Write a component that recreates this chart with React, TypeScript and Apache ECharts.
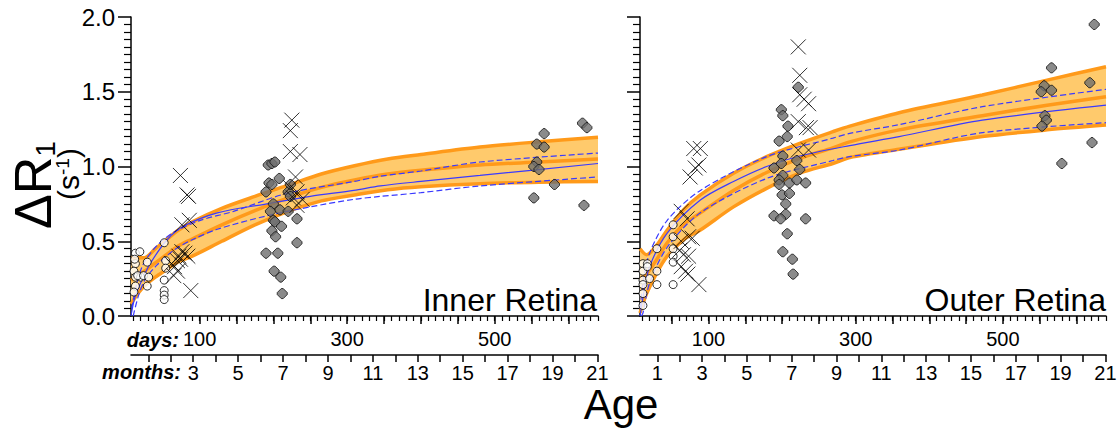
import { useEffect, useRef } from 'react';
import * as echarts from 'echarts';

const FONT = 'Liberation Sans, Arial, Helvetica, sans-serif';
const DAYS_PER_MONTH = 30.44;
const X_MIN = 7;
const X_MAX = 640;

// tick / label values
const dayLabels = [100, 300, 500];
const monthTicks = [1, 2, 3, 4, 5, 6, 7, 8, 9, 10, 11, 12, 13, 14, 15, 16, 17, 18, 19, 20, 21];
const monthLabelsLeft = [3, 5, 7, 9, 11, 13, 15, 17, 19, 21];
const monthLabelsRight = [1, 3, 5, 7, 9, 11, 13, 15, 17, 19, 21];

// ---------- Inner retina (left) ----------
const bandDaysL = [7, 15, 25, 40, 55, 70, 90, 130, 175, 220, 265, 310, 355, 400, 480, 560, 640];
const bandTopL = [0.39, 0.39, 0.39, 0.45, 0.51, 0.57, 0.63, 0.72, 0.8, 0.875, 0.95, 1.005, 1.05, 1.08, 1.13, 1.165, 1.195];
const bandMidL = [0.24, 0.27, 0.3, 0.355, 0.41, 0.465, 0.515, 0.61, 0.705, 0.79, 0.86, 0.91, 0.95, 0.975, 1.01, 1.03, 1.05];
const bandBotL = [0.08, 0.14, 0.2, 0.26, 0.31, 0.36, 0.4, 0.5, 0.61, 0.7, 0.77, 0.81, 0.845, 0.865, 0.885, 0.895, 0.9];

const fitL = [[7, 0.0], [12, 0.12], [20, 0.22], [33, 0.35], [56, 0.51], [78, 0.6], [124, 0.69], [191, 0.75], [250, 0.8], [309, 0.84], [345, 0.87], [400, 0.9], [480, 0.94], [640, 1.02]];
const fitHiL = [[8, 0.05], [15, 0.22], [24, 0.35], [42, 0.47], [65, 0.56], [101, 0.64], [146, 0.7], [218, 0.82], [309, 0.9], [345, 0.935], [400, 0.97], [480, 1.03], [640, 1.09]];
const fitLoL = [[10, 0.0], [18, 0.15], [27, 0.25], [42, 0.34], [65, 0.44], [90, 0.51], [124, 0.58], [191, 0.67], [250, 0.73], [309, 0.78], [345, 0.8], [400, 0.825], [480, 0.87], [640, 0.93]];

const openL = [[13, 0.42], [19, 0.43], [13, 0.35], [12, 0.38], [11, 0.3], [13, 0.26], [20, 0.26], [16, 0.27], [24, 0.27], [13, 0.2], [11, 0.16], [29, 0.36], [31, 0.26], [29, 0.2], [52, 0.49], [54, 0.37], [54, 0.32], [52, 0.24], [52, 0.17], [52, 0.14], [52, 0.11]];
const crossL = [[74, 0.94], [83, 0.81], [85, 0.8], [76, 0.61], [86, 0.64], [66, 0.33], [70, 0.37], [72, 0.4], [76, 0.43], [80, 0.42], [84, 0.4], [65, 0.27], [70, 0.3], [88, 0.17], [74, 0.38], [62, 0.35],
  [225, 1.31], [223, 1.24], [223, 1.1], [236, 1.08], [230, 0.93], [223, 0.86], [232, 0.83], [239, 0.78], [227, 0.79], [232, 0.74]];
const greyL = [[193, 1.01], [198, 1.02], [202, 1.03], [208, 0.92], [194, 0.89], [198, 0.88], [190, 0.83], [200, 0.75], [196, 0.7], [209, 0.71], [200, 0.64], [202, 0.63], [211, 0.6], [198, 0.57], [203, 0.53], [190, 0.42], [206, 0.42], [201, 0.3], [210, 0.26], [212, 0.15], [220, 0.83], [223, 0.8], [223, 0.88], [232, 0.65], [232, 0.49], [220, 0.7],
  [619, 1.29], [625, 1.26], [567, 1.22], [557, 1.15], [567, 1.13], [557, 1.03], [553, 1.0], [560, 0.98], [581, 0.88], [553, 0.79], [621, 0.74]];

// ---------- Outer retina (right) ----------
const bandDaysR = [7, 16, 30, 44, 66, 89, 134, 179, 224, 269, 292, 359, 472, 560, 640];
const bandTopR = [0.45, 0.41, 0.475, 0.575, 0.71, 0.81, 0.955, 1.066, 1.155, 1.233, 1.27, 1.36, 1.478, 1.578, 1.667];
const bandMidR = [0.24, 0.28, 0.38, 0.49, 0.61, 0.69, 0.84, 0.96, 1.055, 1.125, 1.165, 1.245, 1.34, 1.41, 1.467];
const bandBotR = [0.02, 0.15, 0.29, 0.4, 0.51, 0.575, 0.73, 0.854, 0.955, 1.02, 1.06, 1.115, 1.2, 1.245, 1.277];

const fitR = [[7, 0.0], [12, 0.15], [20, 0.33], [44, 0.555], [89, 0.776], [134, 0.9], [179, 1.0], [224, 1.07], [292, 1.14], [359, 1.2], [472, 1.31], [640, 1.41]];
const fitHiR = [[7, 0.05], [12, 0.25], [20, 0.42], [44, 0.64], [89, 0.84], [179, 1.066], [269, 1.19], [292, 1.222], [359, 1.28], [472, 1.4], [640, 1.516]];
const fitLoR = [[9, 0.0], [11, 0.02], [20, 0.22], [44, 0.46], [89, 0.69], [179, 0.92], [269, 1.04], [292, 1.066], [359, 1.11], [472, 1.226], [640, 1.293]];

const openR = [[11, 0.35], [17, 0.35], [11, 0.3], [17, 0.33], [11, 0.24], [11, 0.21], [11, 0.15], [11, 0.07], [20, 0.25], [30, 0.45], [30, 0.3], [30, 0.21], [52, 0.61], [52, 0.53], [52, 0.45], [52, 0.4], [52, 0.36], [52, 0.21]];
const crossR = [[80, 1.12], [89, 1.12], [87, 1.01], [82, 0.99], [75, 0.93], [63, 0.7], [71, 0.65], [73, 0.53], [78, 0.52], [63, 0.5], [66, 0.41], [73, 0.4], [63, 0.33], [69, 0.3], [72, 0.28], [87, 0.21], [61, 0.44],
  [222, 1.8], [224, 1.61], [224, 1.48], [230, 1.45], [236, 1.42], [222, 1.3], [233, 1.26], [238, 1.26], [222, 1.11], [236, 1.11]];
const greyR = [[199, 1.38], [201, 1.34], [208, 1.27], [207, 1.2], [196, 1.17], [201, 1.07], [199, 1.02], [189, 0.99], [201, 0.94], [196, 0.91], [196, 0.88], [210, 0.89], [200, 0.81], [210, 0.82], [205, 0.75], [205, 0.68], [189, 0.67], [198, 0.65], [207, 0.55], [201, 0.43], [214, 0.38], [215, 0.28], [222, 1.53], [220, 1.04], [224, 0.98], [220, 0.91], [232, 0.89], [232, 0.65],
  [624, 1.95], [566, 1.66], [556, 1.54], [552, 1.5], [566, 1.51], [618, 1.56], [557, 1.34], [559, 1.31], [553, 1.27], [621, 1.16], [580, 1.02]];

const ORANGE_DARK = '#FF9A1A';
const ORANGE_LIGHT = '#FFCA6C';
const BLUE = '#3a3aff';

function buildTicks(step: number) {
  const out: number[] = [];
  for (let v = step; v <= X_MAX; v += step) out.push(v);
  return out;
}

function daysMajor(g: number) {
  return {
    type: 'value', gridIndex: g, min: X_MIN, max: X_MAX, position: 'bottom',
    splitLine: { show: false },
    axisLine: { show: true, onZero: false, lineStyle: { color: '#000', width: 1.5 } },
    axisTick: { show: true, length: 8, lineStyle: { color: '#000', width: 1.5 }, customValues: buildTicks(50) },
    axisLabel: { show: true, customValues: dayLabels, fontSize: 20, fontFamily: FONT, color: '#000', margin: 13 },
  };
}
function daysMinor(g: number) {
  return {
    type: 'value', gridIndex: g, min: X_MIN, max: X_MAX, position: 'bottom',
    splitLine: { show: false },
    axisLine: { show: false, onZero: false },
    axisTick: { show: true, length: 5, lineStyle: { color: '#000', width: 1.2 }, customValues: buildTicks(10) },
    axisLabel: { show: false },
  };
}
function monthsAxis(g: number, labels: number[]) {
  return {
    type: 'value', gridIndex: g, min: X_MIN, max: X_MAX, position: 'bottom', offset: 39,
    splitLine: { show: false },
    axisLine: { show: true, onZero: false, lineStyle: { color: '#000', width: 1.5 } },
    axisTick: { show: true, length: 7, lineStyle: { color: '#000', width: 1.5 }, customValues: monthTicks.map((m) => m * DAYS_PER_MONTH) },
    axisLabel: {
      show: true, customValues: labels.map((m) => m * DAYS_PER_MONTH),
      formatter: (v: number) => String(Math.round(v / DAYS_PER_MONTH)),
      fontSize: 20, fontFamily: FONT, color: '#000', margin: 8,
    },
  };
}
function yAx(g: number, showLabel: boolean) {
  return {
    type: 'value', gridIndex: g, min: 0, max: 2, interval: 0.5, position: 'left',
    axisLine: { show: true, onZero: false, lineStyle: { color: '#000', width: 1.5 } },
    axisTick: { show: true, length: 13, lineStyle: { color: '#000', width: 1.5 } },
    minorTick: { show: true, splitNumber: 10, length: 7, lineStyle: { color: '#000', width: 1.2 } },
    splitLine: { show: false }, minorSplitLine: { show: false },
    axisLabel: { show: showLabel, fontSize: 24, fontFamily: FONT, color: '#000', margin: 16, formatter: (v: number) => v.toFixed(1) },
  };
}

function panelSeries(xi: number, yi: number, days: number[], top: number[], mid: number[], bot: number[],
  fit: number[][], hi: number[][], lo: number[][], open: number[][], cross: number[][], grey: number[][]) {
  const common = { xAxisIndex: xi, yAxisIndex: yi, symbol: 'none', smooth: 0.3, silent: true };
  const zip = (ys: number[]) => days.map((d, i) => [d, ys[i]]);
  return [
    {
      type: 'custom', xAxisIndex: xi, yAxisIndex: yi, data: [[X_MIN, 0]], silent: true, z: 1, clip: true,
      renderItem: (_params: any, api: any) => {
        const upper = days.map((d, i) => api.coord([d, top[i]]));
        const lower = days.map((d, i) => api.coord([d, bot[i]])).reverse();
        return { type: 'polygon', shape: { points: [...upper, ...lower] }, style: { fill: ORANGE_LIGHT } };
      },
    },
    { ...common, type: 'line', data: zip(top), lineStyle: { color: ORANGE_DARK, width: 3.5 }, z: 2 },
    { ...common, type: 'line', data: zip(mid), lineStyle: { color: ORANGE_DARK, width: 3.5 }, z: 2 },
    { ...common, type: 'line', data: zip(bot), lineStyle: { color: ORANGE_DARK, width: 3.5 }, z: 2 },
    { ...common, type: 'line', data: fit, lineStyle: { color: BLUE, width: 1.2 }, z: 3 },
    { ...common, type: 'line', data: hi, lineStyle: { color: BLUE, width: 1.2, type: [6, 3] }, z: 3 },
    { ...common, type: 'line', data: lo, lineStyle: { color: BLUE, width: 1.2, type: [6, 3] }, z: 3 },
    { type: 'scatter', xAxisIndex: xi, yAxisIndex: yi, data: open, symbol: 'circle', symbolSize: 8, itemStyle: { color: '#fff', borderColor: '#000', borderWidth: 1 }, z: 4 },
    { type: 'scatter', xAxisIndex: xi, yAxisIndex: yi, data: grey, symbol: 'path://M4,0L6,0L10,4L10,6L6,10L4,10L0,6L0,4Z', symbolSize: 10, itemStyle: { color: '#6e6e6e', borderColor: '#111', borderWidth: 1 }, z: 5 },
    { type: 'scatter', xAxisIndex: xi, yAxisIndex: yi, data: cross, symbol: 'path://M0,0L1,1M1,0L0,1', symbolSize: 15, itemStyle: { color: 'transparent', borderColor: '#000', borderWidth: 1 }, z: 6 },
  ];
}

export default function App() {
  const ref = useRef<HTMLDivElement>(null);
  useEffect(() => {
    if (!ref.current) return;
    const chart = echarts.init(ref.current, null, { renderer: 'svg' });
    const option: any = {
      animation: false,
      backgroundColor: '#fff',
      grid: [
        { left: 131, top: 17, width: 467, height: 299 },
        { left: 640, top: 17, width: 466, height: 299 },
      ],
      xAxis: [
        daysMajor(0), daysMinor(0), monthsAxis(0, monthLabelsLeft),
        daysMajor(1), daysMinor(1), monthsAxis(1, monthLabelsRight),
      ],
      yAxis: [yAx(0, true), yAx(1, false)],
      series: [
        ...panelSeries(0, 0, bandDaysL, bandTopL, bandMidL, bandBotL, fitL, fitHiL, fitLoL, openL, crossL, greyL),
        ...panelSeries(3, 1, bandDaysR, bandTopR, bandMidR, bandBotR, fitR, fitHiR, fitLoR, openR, crossR, greyR),
      ],
      graphic: [
        { type: 'text', x: 597, y: 300, style: { text: 'Inner Retina', fontSize: 32, fontFamily: FONT, fill: '#000', align: 'right', verticalAlign: 'middle' }, z: 10 },
        { type: 'text', x: 1106, y: 300, style: { text: 'Outer Retina', fontSize: 32, fontFamily: FONT, fill: '#000', align: 'right', verticalAlign: 'middle' }, z: 10 },
        { type: 'text', x: 179, y: 340, style: { text: 'days:', fontSize: 20, fontWeight: 'bold', fontStyle: 'italic', fontFamily: FONT, fill: '#000', align: 'right', verticalAlign: 'middle' } },
        { type: 'text', x: 181, y: 372, style: { text: 'months:', fontSize: 20, fontWeight: 'bold', fontStyle: 'italic', fontFamily: FONT, fill: '#000', align: 'right', verticalAlign: 'middle' } },
        { type: 'text', x: 621, y: 404, style: { text: 'Age', fontSize: 42, lineHeight: 34, fontFamily: FONT, fill: '#000', align: 'center', verticalAlign: 'middle' } },
        {
          type: 'text', x: 33, y: 185, rotation: Math.PI / 2,
          style: {
            text: '{a|ΔR}{b|1}', align: 'center', verticalAlign: 'middle', fill: '#000',
            rich: { a: { fontSize: 52, fontFamily: FONT, fill: '#000' }, b: { fontSize: 28, fontFamily: FONT, fill: '#000', verticalAlign: 'bottom' } },
          },
        },
        {
          type: 'text', x: 68, y: 174, rotation: Math.PI / 2,
          style: {
            text: '{a|(s}{b|-1}{a|)}', align: 'center', verticalAlign: 'middle', fill: '#000',
            rich: { a: { fontSize: 30, fontFamily: FONT, fill: '#000' }, b: { fontSize: 19, fontFamily: FONT, fill: '#000', verticalAlign: 'top' } },
          },
        },
      ],
    };
    chart.setOption(option);
    return () => chart.dispose();
  }, []);
  return <div ref={ref} style={{ position: 'fixed', left: 0, top: 0, width: 1120, height: 429 }} />;
}
